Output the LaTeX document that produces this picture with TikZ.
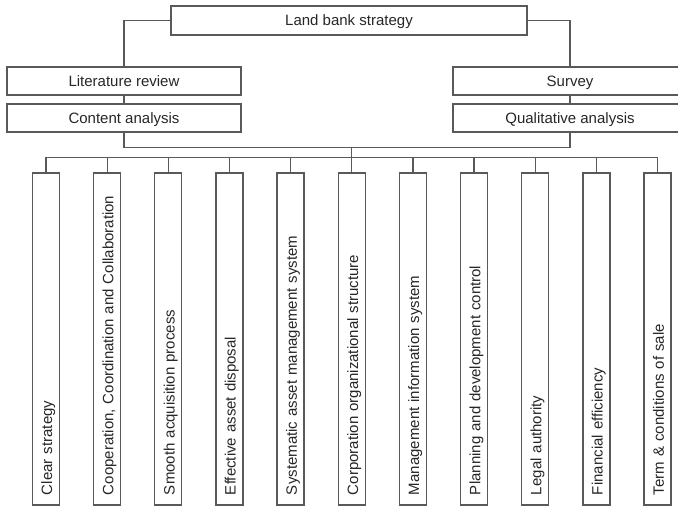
\documentclass[tikz,border=0pt]{standalone}
\usepackage{fontspec}
\setmainfont{Liberation Sans}
\begin{document}
\begin{tikzpicture}[x=1pt,y=-1pt,
  every node/.style={font=\fontsize{15}{18}\selectfont, text=black!85},
  hbox/.style={draw=black!65, line width=1.3pt, minimum width=234pt,
    minimum height=28pt, inner sep=0pt, text height=10.7pt, text depth=0pt},
  vbox/.style={draw=black!65, line width=1.3pt, rotate=90,
    minimum width=332pt, minimum height=27pt, inner xsep=10pt,
    inner ysep=0pt, text width=312pt, align=left,
    text height=12.5pt, text depth=0pt},
  link/.style={draw=black!65, line width=1.3pt}]
\useasboundingbox (0,0) rectangle (678,508);
\clip (0,0) rectangle (678,508);

% top level and the two research streams
\node[hbox, minimum width=356pt, minimum height=29pt] (top) at (349,20.5) {Land bank strategy};
\node[hbox] (lit) at (124,81) {Literature review};
\node[hbox] (content) at (124,118) {Content analysis};
\node[hbox] (survey) at (570,81) {Survey};
\node[hbox] (qual) at (570,118) {Qualitative analysis};

\draw[link] (top.west) -| (lit.north);
\draw[link] (top.east) -| (survey.north);
\draw[link] (lit) -- (content);
\draw[link] (survey) -- (qual);
\draw[link] (content.south) -- ++(0,15) coordinate (hub) -| (qual.south);

% the eleven factors
\foreach \t [count=\i] in {
  Clear strategy,
  {Cooperation, Coordination and Collaboration},
  Smooth acquisition process,
  Effective asset disposal,
  Systematic asset management system,
  Corporation organizational structure,
  Management information system,
  Planning and development control,
  Legal authority,
  Financial efficiency,
  Term \& conditions of sale}
  \node[vbox] (b\i) at ({46+61.15*(\i-1)},339) {\t};

% bus linking the analyses to the factors
\draw[link] (hub -| b6.east) -- ++(0,11);
\draw[link] (b1.east) -- ++(0,-15) -| (b11.east);
\foreach \i in {2,...,10}
  \draw[link] (b\i.east) -- ++(0,-15);
\end{tikzpicture}
\end{document}
